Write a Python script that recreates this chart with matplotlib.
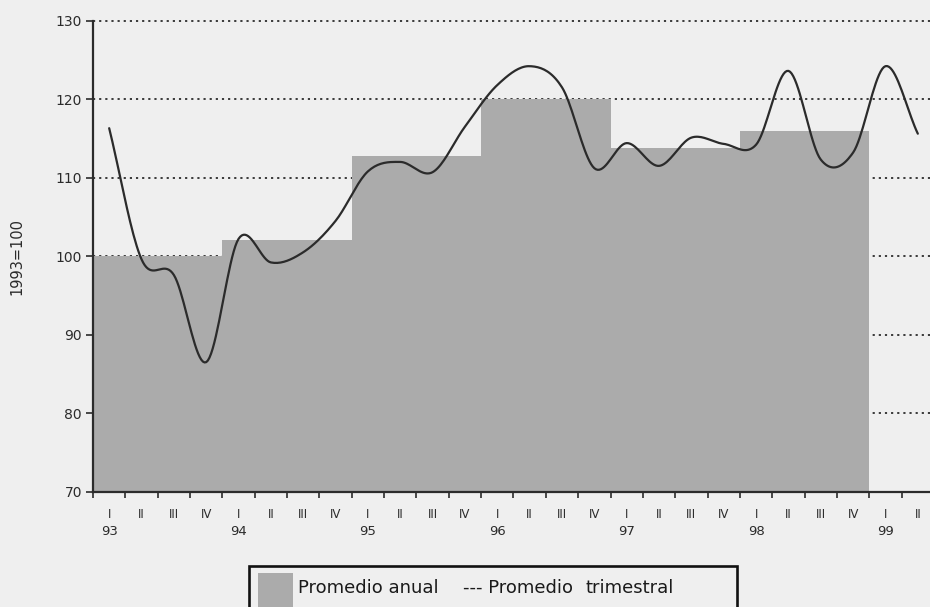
import matplotlib
matplotlib.use("Agg")
import matplotlib.pyplot as plt
import numpy as np
from matplotlib.patches import Rectangle

# annual average index (1993=100) and the quarterly series
years = ["93", "94", "95", "96", "97", "98"]
annual_avg = [100.0, 102.0, 112.8, 120.0, 113.8, 116.0]

quarter_names = ["I", "II", "III", "IV"]
quarterly_avg = [
    116.3, 99.6, 97.6, 86.5,      # 1993
    102.2, 99.2, 100.5, 104.5,    # 1994
    110.8, 112.0, 110.7, 116.5,   # 1995
    121.8, 124.2, 121.5, 111.2,   # 1996
    114.4, 111.5, 115.1, 114.3,   # 1997
    114.2, 123.6, 112.3, 113.2,   # 1998
    124.2, 115.6,                 # 1999
]
tick_years = ["93", "94", "95", "96", "97", "98", "99"]
y_ticks = [70, 80, 90, 100, 110, 120, 130]
grid_levels = [80, 90, 100, 110, 120, 130]

BG = "#efefef"
BAR = "#ababab"
INK = "#2b2b2b"


def smooth(y, n=20):
    """Catmull-Rom curve through evenly spaced points."""
    y = np.asarray(y, dtype=float)
    m = np.empty_like(y)
    m[1:-1] = (y[2:] - y[:-2]) / 2
    m[0] = y[1] - y[0]
    m[-1] = y[-1] - y[-2]
    xs, ys = [], []
    t = np.linspace(0, 1, n, endpoint=False)
    for i in range(len(y) - 1):
        h00 = 2 * t**3 - 3 * t**2 + 1
        h10 = t**3 - 2 * t**2 + t
        h01 = -2 * t**3 + 3 * t**2
        h11 = t**3 - t**2
        xs.append(i + t)
        ys.append(h00 * y[i] + h10 * m[i] + h01 * y[i + 1] + h11 * m[i + 1])
    xs.append([len(y) - 1])
    ys.append([y[-1]])
    return np.concatenate(xs), np.concatenate(ys)


fig = plt.figure(figsize=(9.3, 6.07), dpi=100, facecolor=BG)
ax = fig.add_axes((0.1, 0.19, 0.9043, 0.776))
ax.set_facecolor(BG)

ax.set_xlim(0, 26)
ax.set_ylim(70, 130)

for lvl in grid_levels:
    ax.axhline(lvl, color=INK, lw=1.3, ls=(0, (1.2, 2.2)), zorder=1, clip_on=False)

ax.bar(np.arange(len(annual_avg)) * 4, annual_avg, width=4, align="edge",
       color=BAR, edgecolor="none", zorder=2)

sx, sy = smooth(quarterly_avg)
ax.plot(sx + 0.5, sy, color=INK, lw=1.6, zorder=3, solid_capstyle="round")

for side in ("top", "right"):
    ax.spines[side].set_visible(False)
for side in ("left", "bottom"):
    ax.spines[side].set_color(INK)
    ax.spines[side].set_linewidth(1.6)

ax.set_yticks(y_ticks)
ax.tick_params(axis="y", length=5, width=1.2, color=INK, pad=3,
               labelsize=10, labelcolor=INK)

q_centers = np.arange(26) + 0.5
ax.set_xticks(q_centers)
ax.set_xticklabels([quarter_names[k % 4] for k in range(26)])
ax.set_xticks(np.arange(27), minor=True)
ax.tick_params(axis="x", which="major", length=0, pad=11.5, labelsize=8.5,
               labelcolor=INK)
ax.tick_params(axis="x", which="minor", length=4, width=1.2, color=INK)

xt = ax.get_xaxis_transform()
for i, yr in enumerate(tick_years):
    ax.text(i * 4 + 0.5, -0.084, yr, transform=xt, ha="center", va="center",
            fontsize=9.5, color=INK)

ax.set_ylabel("1993=100", fontsize=10.5, color=INK)
ax.yaxis.set_label_coords(-0.081, 0.5)

# legend box at the foot of the figure
W, H = 930, 607


def fx(px):
    return px / W


def fy(py):
    return (H - py) / H


fig.patches.append(Rectangle((fx(249), fy(625)), fx(737) - fx(249),
                             fy(566) - fy(625), transform=fig.transFigure,
                             facecolor=BG, edgecolor="#111111", lw=1.9,
                             clip_on=False))
fig.patches.append(Rectangle((fx(258), fy(610)), fx(293) - fx(258),
                             fy(573) - fy(610), transform=fig.transFigure,
                             facecolor=BAR, edgecolor="none", clip_on=False))
fig.text(fx(298), fy(588), "Promedio anual", fontsize=13, color="#1a1a1a",
         va="center")
fig.text(fx(463), fy(588), "--- Promedio", fontsize=13, color="#1a1a1a",
         va="center")
fig.text(fx(585), fy(588), "trimestral", fontsize=13, color="#1a1a1a",
         va="center")

fig.savefig("out.png", dpi=100, facecolor=BG)
